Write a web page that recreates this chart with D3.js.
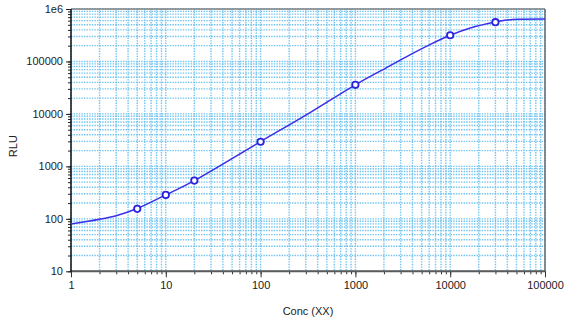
<!DOCTYPE html>
<html>
<head>
<meta charset="utf-8">
<script src="https://cdn.jsdelivr.net/npm/d3@7"></script>
<style>
  html, body { margin: 0; padding: 0; background: #fff; }
  svg { display: block; }
  text { font-family: "Liberation Sans", Arial, sans-serif; fill: #222; }
</style>
</head>
<body>
<svg id="chart" width="573" height="323"></svg>
<script>
// Measured standards
const pointConc = [5, 10, 20, 100, 1000, 10000, 30000];
const pointRLU  = [155, 286, 536, 2950, 35900, 316000, 560000];

// Fitted standard curve, sampled
const curveConc = [1, 2, 3, 5, 10, 20, 100, 300, 1000, 2070, 3800, 6180, 10000, 16300, 30000, 39900, 55100, 100000];
const curveRLU  = [80, 98, 115, 157, 286, 536, 2974, 9500, 35900, 74000, 135000, 212000, 316000, 434000, 565000, 617000, 636000, 642000];

// Axis ticks
const xTickValues = [1, 10, 100, 1000, 10000, 100000];
const xTickLabels = ["1", "10", "100", "1000", "10000", "100000"];
const yTickValues = [10, 100, 1000, 10000, 100000, 1000000];
const yTickLabels = ["10", "100", "1000", "10000", "100000", "1e6"];

const svg = d3.select("#chart");
const plotL = 71, plotR = 545, plotT = 9, plotB = 271.3;

const x = d3.scaleLog().domain([1, 100000]).range([plotL, plotR]);
const y = d3.scaleLog().domain([10, 1000000]).range([plotB, plotT]);

// minor values: 1..9 x 10^k
function minorValues(lo, hi) {
  const out = [];
  for (let p = lo; p < hi; p *= 10) {
    for (let m = 1; m <= 9; m++) out.push(p * m);
  }
  out.push(hi);
  return out;
}
const xMinor = minorValues(1, 100000);
const yMinor = minorValues(10, 1000000);

// grid
const grid = svg.append("g")
  .attr("stroke", "#6fc3ee")
  .attr("stroke-width", 1.4)
  .attr("stroke-dasharray", "1.4,1.2");
grid.selectAll("line.v").data(xMinor).join("line")
  .attr("x1", d => x(d)).attr("x2", d => x(d))
  .attr("y1", plotT).attr("y2", plotB);
grid.selectAll("line.h").data(yMinor).join("line")
  .attr("x1", plotL).attr("x2", plotR)
  .attr("y1", d => y(d)).attr("y2", d => y(d));

// frame top/right
svg.append("line").attr("x1", plotL).attr("x2", plotR).attr("y1", plotT).attr("y2", plotT)
  .attr("stroke", "#808080").attr("stroke-width", 1.5);
svg.append("line").attr("x1", plotR).attr("x2", plotR).attr("y1", plotT).attr("y2", plotB)
  .attr("stroke", "#6a6a6a").attr("stroke-width", 1.5);

// bottom axis
const xAxisMinor = d3.axisBottom(x).tickValues(xMinor).tickSize(3).tickFormat("");
const xAxisMajor = d3.axisBottom(x).tickValues(xTickValues).tickSize(6)
  .tickFormat((d, i) => xTickLabels[i]).tickPadding(4);
const gxm = svg.append("g").attr("transform", `translate(0,${plotB})`).call(xAxisMinor);
const gx = svg.append("g").attr("transform", `translate(0,${plotB})`).call(xAxisMajor);
[gxm, gx].forEach(g => {
  g.select(".domain").remove();
  g.selectAll(".tick line").attr("stroke", "#333").attr("stroke-width", 1);
});
gx.selectAll("text").attr("font-size", 11).attr("fill", "#2a2a3a")
  .attr("font-family", "Liberation Sans, Arial, sans-serif");
svg.append("line").attr("x1", plotL).attr("x2", plotR).attr("y1", plotB).attr("y2", plotB)
  .attr("stroke", "#5a5a5a").attr("stroke-width", 2);

// left axis
const yAxisMinor = d3.axisLeft(y).tickValues(yMinor).tickSize(3).tickFormat("");
const yAxisMajor = d3.axisLeft(y).tickValues(yTickValues).tickSize(5)
  .tickFormat((d, i) => yTickLabels[i]).tickPadding(3);
const gym = svg.append("g").attr("transform", `translate(${plotL},0)`).call(yAxisMinor);
const gy = svg.append("g").attr("transform", `translate(${plotL},0)`).call(yAxisMajor);
[gym, gy].forEach(g => {
  g.select(".domain").remove();
  g.selectAll(".tick line").attr("stroke", "#222").attr("stroke-width", 1);
});
gy.selectAll("text").attr("font-size", 11).attr("fill", "#2a2a3a")
  .attr("font-family", "Liberation Sans, Arial, sans-serif");
svg.append("line").attr("x1", plotL).attr("x2", plotL).attr("y1", plotT).attr("y2", plotB + 1)
  .attr("stroke", "#111").attr("stroke-width", 1.5);

// axis titles
svg.append("text").attr("x", (plotL + plotR) / 2).attr("y", 315)
  .attr("text-anchor", "middle").attr("font-size", 11).attr("fill", "#2a2a3a")
  .text("Conc (XX)");
svg.append("text")
  .attr("transform", `translate(17,${(plotT + plotB) / 2 + 6}) rotate(-90)`)
  .attr("text-anchor", "middle").attr("font-size", 11).attr("fill", "#2a2a3a")
  .text("RLU");

// fitted curve
const curveData = curveConc.map((c, i) => [c, curveRLU[i]]);
svg.append("path").datum(curveData)
  .attr("fill", "none").attr("stroke", "#3a2ee6").attr("stroke-width", 1.5)
  .attr("d", d3.line().x(d => x(d[0])).y(d => y(d[1])).curve(d3.curveCatmullRom.alpha(0.5)));

// standards
const pts = pointConc.map((c, i) => [c, pointRLU[i]]);
svg.append("g").selectAll("circle").data(pts).join("circle")
  .attr("cx", d => x(d[0])).attr("cy", d => y(d[1])).attr("r", 3.2)
  .attr("fill", "#fff").attr("stroke", "#2a22dd").attr("stroke-width", 1.8);
</script>
</body>
</html>
